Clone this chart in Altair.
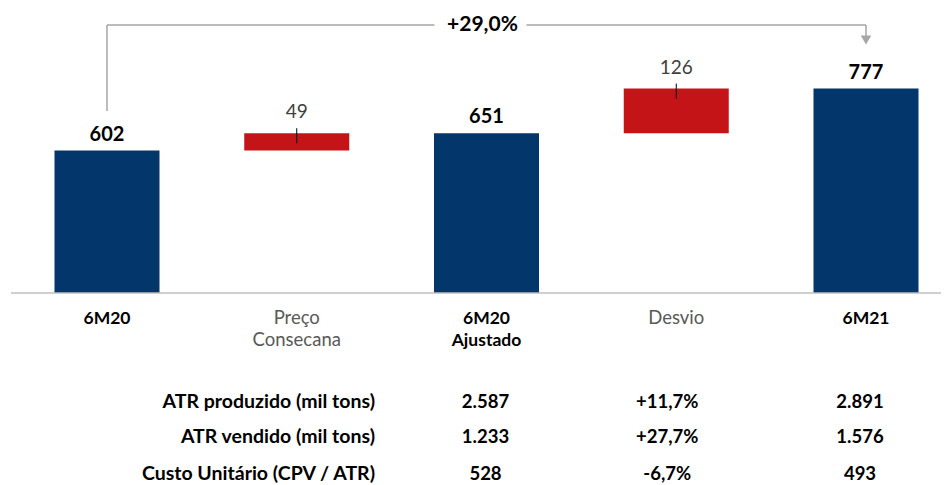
import altair as alt
import pandas as pd

# ---- data ----
categories = ["6M20", "Preço Consecana", "6M20 Ajustado", "Desvio", "6M21"]
display_labels = ["6M20", "Preço\nConsecana", "6M20\nAjustado", "Desvio", "6M21"]
values = [602, 49, 651, 126, 777]
kinds = ["total", "delta", "total", "delta", "total"]
growth_label = "+29,0%"

row_labels = ["ATR produzido (mil tons)", "ATR vendido (mil tons)", "Custo Unitário (CPV / ATR)"]
col_6m20aj = ["2.587", "1.233", "528"]
col_desvio = ["+11,7%", "+27,7%", "-6,7%"]
col_6m21 = ["2.891", "1.576", "493"]

# ---- waterfall table ----
rows = []
running = 0
for c, lab, v, k in zip(categories, display_labels, values, kinds):
    if k == "total":
        start, end = 0, v
        running = v
    else:
        start, end = running, running + v
        running = end
    rows.append({"cat": c, "label": lab, "value": v, "kind": k,
                 "start": start, "end": end, "txt": str(v)})
df = pd.DataFrame(rows)

FONT = "Century Gothic, Lato, sans-serif"
BLUE = "#03366a"
RED = "#c41418"
GRAY = "#a6a6a6"

xscale = alt.Scale(domain=categories, range=[0, 957], paddingInner=0.4466, paddingOuter=0.245)
yscale = alt.Scale(domain=[200, 1004.4], range=[285, 0], clamp=True, zero=False, nice=False)


def X(field):
    return alt.X(field + ":N", scale=xscale, axis=None)


def Yv(field):
    return alt.Y(field + ":Q", scale=yscale, axis=None)


base = alt.Chart(df)

bars = base.mark_bar().encode(
    x=X("cat"),
    y=Yv("start"),
    y2="end:Q",
    color=alt.Color("kind:N", scale=alt.Scale(domain=["total", "delta"], range=[BLUE, RED]), legend=None),
)

baseline = alt.Chart(pd.DataFrame({"a": [0]})).mark_rule(color="#bfbfbf", strokeWidth=1.5).encode(
    x=alt.value(3), x2=alt.value(933), y=alt.value(285)
)

lab_tot = base.transform_filter(alt.datum.kind == "total").mark_text(
    font=FONT, fontSize=20, fontWeight="bold", color="#000000", baseline="alphabetic", dy=-10
).encode(x=X("cat"), y=Yv("end"), text="txt:N")

lab_del = base.transform_filter(alt.datum.kind == "delta").mark_text(
    font=FONT, fontSize=19, color="#404040", baseline="alphabetic", dy=-15
).encode(x=X("cat"), y=Yv("end"), text="txt:N")

leaders = base.transform_filter(alt.datum.kind == "delta").mark_rule(
    color="#000000", strokeWidth=1, yOffset=-5, y2Offset=10
).encode(x=X("cat"), y=Yv("end"), y2="end:Q")

xl_tot = base.transform_filter(alt.datum.kind == "total").mark_text(
    font=FONT, fontSize=17.5, fontWeight="bold", color="#000000", baseline="alphabetic",
    lineBreak="\n", lineHeight=22
).encode(x=X("cat"), y=alt.value(316), text="label:N")

xl_del = base.transform_filter(alt.datum.kind == "delta").mark_text(
    font=FONT, fontSize=18.5, color="#595959", baseline="alphabetic",
    lineBreak="\n", lineHeight=22
).encode(x=X("cat"), y=alt.value(316), text="label:N")

# ---- growth bracket ----
br = pd.DataFrame({"c1": [categories[0]], "c2": [categories[2]], "c3": [categories[4]]})
brb = alt.Chart(br)
left_v = brb.mark_rule(color=GRAY, strokeWidth=1.5).encode(
    x=X("c1"), y=alt.value(103), y2=alt.value(17))
h1 = brb.mark_rule(color=GRAY, strokeWidth=1.5, x2Offset=-52).encode(
    x=X("c1"), x2="c2:N", y=alt.value(17))
h2 = brb.mark_rule(color=GRAY, strokeWidth=1.5, xOffset=40).encode(
    x=X("c2"), x2="c3:N", y=alt.value(17))
right_v = brb.mark_rule(color=GRAY, strokeWidth=1.5).encode(
    x=X("c3"), y=alt.value(17), y2=alt.value(30))
arrow = brb.mark_point(shape="triangle-down", filled=True, color=GRAY, opacity=1, size=110).encode(
    x=X("c3"), y=alt.value(32))
growth = brb.mark_text(font=FONT, fontSize=21, fontWeight="bold", color="#000000",
                       baseline="middle", dx=-4).encode(
    x=X("c2"), y=alt.value(17), text=alt.value(growth_label))

# ---- table below ----
tab = pd.DataFrame({"row": row_labels, "v1": col_6m20aj, "v2": col_desvio, "v3": col_6m21,
                    "k1": [categories[2]] * 3, "k2": [categories[3]] * 3, "k3": [categories[4]] * 3,
                    "ypix": [400, 435, 472]})
tb = alt.Chart(tab)
tstyle = dict(font=FONT, fontWeight="bold", color="#000000", baseline="alphabetic")
TY = alt.Y("ypix:Q", scale=None, axis=None)
t_lab = tb.mark_text(align="right", fontSize=19.5, **tstyle).encode(x=alt.value(367), y=TY, text="row:N")
t1 = tb.mark_text(dx=-1, fontSize=18.5, **tstyle).encode(x=X("k1"), y=TY, text="v1:N")
t2 = tb.mark_text(dx=-9, fontSize=18.5, **tstyle).encode(x=X("k2"), y=TY, text="v2:N")
t3 = tb.mark_text(dx=-6, fontSize=18.5, **tstyle).encode(x=X("k3"), y=TY, text="v3:N")

chart = alt.layer(
    bars, baseline, leaders, lab_tot, lab_del, xl_tot, xl_del,
    left_v, h1, h2, right_v, arrow, growth,
    t_lab, t1, t2, t3
).resolve_scale(y="independent").properties(
    width=933, height=477, padding=0, autosize=alt.AutoSizeParams(type="none")
).configure_view(stroke=None)

chart.save("out.html", embed_options={"renderer": "svg", "actions": False})
